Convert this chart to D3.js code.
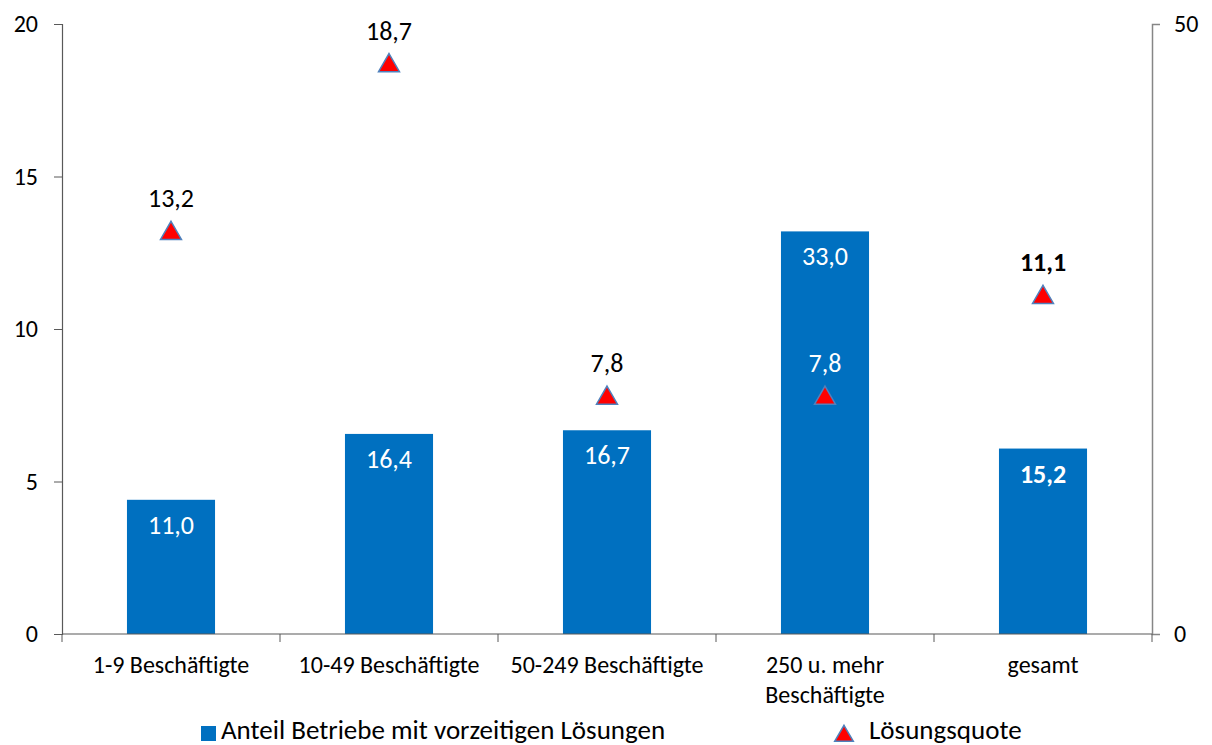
<!DOCTYPE html>
<html>
<head>
<meta charset="utf-8">
<script src="https://cdn.jsdelivr.net/npm/d3@7"></script>
<style>
  html, body { margin: 0; padding: 0; background: #fff; }
  svg { display: block; font-family: Carlito, Lato, "Open Sans", sans-serif; }
</style>
</head>
<body>
<svg id="chart" width="1212" height="745"></svg>
<script>
// Kategorien (Betriebsgröße)
const categories = [["1-9 Beschäftigte"], ["10-49 Beschäftigte"], ["50-249 Beschäftigte"], ["250 u. mehr", "Beschäftigte"], ["gesamt"]];
// Anteil Betriebe mit vorzeitigen Lösungen (rechte Achse, 0–50)
const anteilBetriebe = [11.0, 16.4, 16.7, 33.0, 15.2];
// Lösungsquote (linke Achse, 0–20)
const loesungsquote = [13.2, 18.7, 7.8, 7.8, 11.1];
const leftTicks = [0, 5, 10, 15, 20];
const rightTicks = [0, 50];
const boldIndex = 4; // "gesamt" wird fett beschriftet

const fmt = v => d3.format(".1f")(v).replace(".", ",");

const svg = d3.select("#chart");
const m = { left: 62, right: 1152, top: 24, bottom: 634 };

const x = d3.scaleBand().domain(d3.range(categories.length)).range([m.left, m.right]).paddingInner(0.596).paddingOuter(0.298);
const band = (m.right - m.left) / categories.length;
const yL = d3.scaleLinear().domain([0, 20]).range([m.bottom, m.top]);
const yR = d3.scaleLinear().domain([0, 50]).range([m.bottom, m.top]);

// Balken
svg.append("g").selectAll("rect").data(anteilBetriebe).join("rect")
  .attr("x", (d, i) => x(i))
  .attr("width", x.bandwidth())
  .attr("y", d => yR(d))
  .attr("height", d => yR(0) - yR(d))
  .attr("fill", "#0070c0");

// Achsen
const leftAxis = svg.append("g").attr("transform", `translate(${m.left},0)`)
  .call(d3.axisLeft(yL).tickValues(leftTicks).tickSize(8).tickPadding(16).tickFormat(d3.format("d")));
leftAxis.select(".domain").attr("stroke", "#595959").attr("stroke-width", 1.2);
leftAxis.selectAll(".tick line").attr("stroke", "#595959");
leftAxis.selectAll("text").attr("font-size", 24).attr("fill", "#000").attr("font-family", "Carlito, Lato, sans-serif");

const rightAxis = svg.append("g").attr("transform", `translate(${m.right},0)`)
  .call(d3.axisRight(yR).tickValues(rightTicks).tickSize(8).tickPadding(14).tickFormat(d3.format("d")));
rightAxis.select(".domain").attr("stroke", "#868686").attr("stroke-width", 1.5);
rightAxis.selectAll(".tick line").attr("stroke", "#868686");
rightAxis.selectAll("text").attr("font-size", 24).attr("fill", "#000").attr("font-family", "Carlito, Lato, sans-serif");

// x-Achse mit Trennstrichen zwischen den Kategorien
const xb = svg.append("g");
xb.append("line").attr("x1", m.left).attr("x2", m.right).attr("y1", m.bottom).attr("y2", m.bottom)
  .attr("stroke", "#595959").attr("stroke-width", 1.2);
xb.selectAll("line.sep").data(d3.range(categories.length + 1)).join("line")
  .attr("class", "sep")
  .attr("x1", i => m.left + i * band).attr("x2", i => m.left + i * band)
  .attr("y1", m.bottom).attr("y2", m.bottom + 8)
  .attr("stroke", "#595959");
const catText = xb.selectAll("text.cat").data(categories).join("text")
  .attr("class", "cat")
  .attr("x", (d, i) => x(i) + x.bandwidth() / 2)
  .attr("y", 673)
  .attr("text-anchor", "middle")
  .attr("font-size", 24)
  .attr("fill", "#000");
catText.selectAll("tspan").data(d => d).join("tspan")
  .attr("x", function () { return d3.select(this.parentNode).attr("x"); })
  .attr("dy", (d, j) => j === 0 ? 0 : 30)
  .text(d => d);

// Werte in den Balken
svg.append("g").selectAll("text").data(anteilBetriebe).join("text")
  .attr("x", (d, i) => x(i) + x.bandwidth() / 2)
  .attr("y", d => yR(d) + 34)
  .attr("text-anchor", "middle")
  .attr("font-size", 26)
  .attr("font-weight", (d, i) => i === boldIndex ? "bold" : "normal")
  .attr("fill", "#fff")
  .text(d => fmt(d));

// Dreiecke für die Lösungsquote
const tri = d3.symbol().type(d3.symbolTriangle).size(190);
svg.append("g").selectAll("path").data(loesungsquote).join("path")
  .attr("d", tri)
  .attr("transform", (d, i) => `translate(${x(i) + x.bandwidth() / 2},${yL(d) + 2})`)
  .attr("fill", "#ff0000")
  .attr("stroke", "#4f81bd")
  .attr("stroke-width", 1.5);

// Beschriftung der Dreiecke (weiß, wenn sie auf einem Balken liegt)
svg.append("g").selectAll("text").data(loesungsquote).join("text")
  .attr("x", (d, i) => x(i) + x.bandwidth() / 2)
  .attr("y", d => yL(d) - 24)
  .attr("text-anchor", "middle")
  .attr("font-size", 26)
  .attr("font-weight", (d, i) => i === boldIndex ? "bold" : "normal")
  .attr("fill", (d, i) => yL(d) - 30 > yR(anteilBetriebe[i]) ? "#fff" : "#000")
  .text(d => fmt(d));

// Legende
const lg = svg.append("g");
lg.append("rect").attr("x", 201).attr("y", 726).attr("width", 15).attr("height", 15).attr("fill", "#0070c0");
lg.append("text").attr("x", 221).attr("y", 739).attr("font-size", 27).attr("fill", "#000")
  .text("Anteil Betriebe mit vorzeitigen Lösungen");
lg.append("path").attr("d", d3.symbol().type(d3.symbolTriangle).size(150))
  .attr("transform", "translate(844,736)")
  .attr("fill", "#ff0000").attr("stroke", "#4f81bd").attr("stroke-width", 1.5);
lg.append("text").attr("x", 869).attr("y", 739).attr("font-size", 27).attr("fill", "#000")
  .text("Lösungsquote");
</script>
</body>
</html>
